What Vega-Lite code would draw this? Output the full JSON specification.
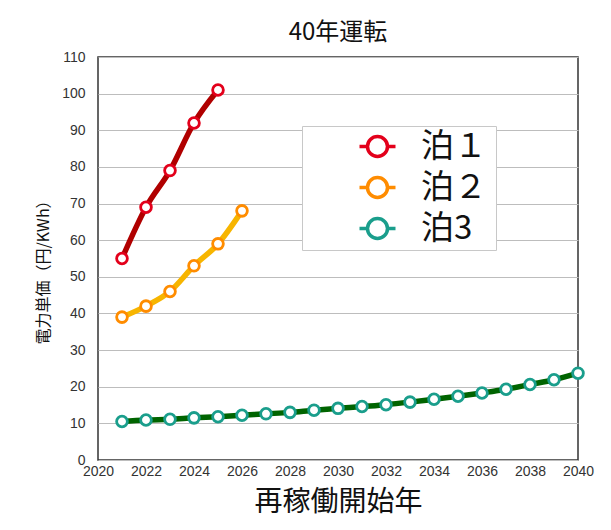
{
  "$schema": "https://vega.github.io/schema/vega-lite/v6.json",
  "width": 480,
  "height": 403,
  "autosize": {"type": "none"},
  "padding": {"left": 98, "top": 57, "right": 33, "bottom": 70},
  "background": "white",
  "title": {"text": "40年運転", "fontSize": 24, "font": "Noto Sans CJK JP", "fontWeight": "normal", "color": "#111", "offset": 5, "anchor": "middle"},
  "config": {
    "font": "Noto Sans CJK JP",
    "view": {"stroke": "#333", "strokeWidth": 1.5},
    "axis": {"labelFont": "Liberation Sans", "labelFontSize": 14, "labelColor": "#333", "ticks": false, "domain": false, "titleFont": "Noto Sans CJK JP", "titleFontWeight": "normal", "titleColor": "#111"}
  },
  "data": {"values": [
    {"plant": "泊１", "year": 2021, "price": 55},
    {"plant": "泊１", "year": 2022, "price": 69},
    {"plant": "泊１", "year": 2023, "price": 79},
    {"plant": "泊１", "year": 2024, "price": 92},
    {"plant": "泊１", "year": 2025, "price": 101},
    {"plant": "泊２", "year": 2021, "price": 39},
    {"plant": "泊２", "year": 2022, "price": 42},
    {"plant": "泊２", "year": 2023, "price": 46},
    {"plant": "泊２", "year": 2024, "price": 53},
    {"plant": "泊２", "year": 2025, "price": 59},
    {"plant": "泊２", "year": 2026, "price": 68},
    {"plant": "泊3", "year": 2021, "price": 10.5},
    {"plant": "泊3", "year": 2022, "price": 10.9},
    {"plant": "泊3", "year": 2023, "price": 11.1},
    {"plant": "泊3", "year": 2024, "price": 11.5},
    {"plant": "泊3", "year": 2025, "price": 11.8},
    {"plant": "泊3", "year": 2026, "price": 12.2},
    {"plant": "泊3", "year": 2027, "price": 12.6},
    {"plant": "泊3", "year": 2028, "price": 13.0},
    {"plant": "泊3", "year": 2029, "price": 13.6},
    {"plant": "泊3", "year": 2030, "price": 14.1},
    {"plant": "泊3", "year": 2031, "price": 14.6},
    {"plant": "泊3", "year": 2032, "price": 15.1},
    {"plant": "泊3", "year": 2033, "price": 15.8},
    {"plant": "泊3", "year": 2034, "price": 16.6},
    {"plant": "泊3", "year": 2035, "price": 17.4},
    {"plant": "泊3", "year": 2036, "price": 18.3},
    {"plant": "泊3", "year": 2037, "price": 19.3},
    {"plant": "泊3", "year": 2038, "price": 20.6},
    {"plant": "泊3", "year": 2039, "price": 21.9},
    {"plant": "泊3", "year": 2040, "price": 23.7}
  ]},
  "encoding": {
    "x": {"field": "year", "type": "quantitative", "scale": {"domain": [2020, 2040], "nice": false, "zero": false},
      "axis": {"values": [2020, 2022, 2024, 2026, 2028, 2030, 2032, 2034, 2036, 2038, 2040], "format": "d", "grid": false, "labelFlush": false, "labelPadding": 4, "title": "再稼働開始年", "titleFontSize": 28, "titlePadding": 10}},
    "y": {"field": "price", "type": "quantitative", "scale": {"domain": [0, 110], "nice": false},
      "axis": {"values": [0, 10, 20, 30, 40, 50, 60, 70, 80, 90, 100, 110], "grid": true, "gridColor": "#bdbdbd", "gridWidth": 1.2, "labelPadding": 13, "labelFlush": false, "title": "電力単価（円/KWh）", "titleFontSize": 16, "titlePadding": 10, "titleY": 211}}
  },
  "layer": [
    {
      "mark": {"type": "line", "interpolate": "monotone", "strokeWidth": 5.5},
      "encoding": {
        "stroke": {"field": "plant", "type": "nominal", "scale": {"domain": ["泊3", "泊１", "泊２"], "range": ["#006400", "#b00000", "#f7b500"]}, "legend": null}
      }
    },
    {
      "mark": {"type": "point", "shape": "circle", "size": 115, "filled": false, "fill": "white", "fillOpacity": 1, "strokeWidth": 2.8, "opacity": 1},
      "encoding": {
        "color": {"field": "plant", "type": "nominal", "scale": {"domain": ["泊１", "泊２", "泊3"], "range": ["#e3001b", "#ff8c00", "#1a9e8c"]},
          "legend": {"orient": "none", "legendX": 204, "legendY": 69, "title": "　　", "titleOrient": "right", "titleFontSize": 33, "titlePadding": 5, "titleFont": "Noto Sans CJK JP", "padding": 4, "strokeColor": "#c8c8c8", "fillColor": "white",
            "labelFontSize": 33, "labelFont": "Noto Sans CJK JP", "labelColor": "#111", "labelOffset": 27, "symbolOffset": 55, "rowPadding": 6,
            "symbolType": "M-1.8,0L-1,0M1,0L1.8,0M-1,0A1,1,0,1,1,1,0A1,1,0,1,1,-1,0Z",
            "symbolSize": 400, "symbolStrokeWidth": 3.5, "symbolFillColor": "white",
            "encode": {"symbols": {"update": {"fill": {"value": "white"}, "strokeWidth": {"signal": "datum.value == '泊２' ? 6 : (datum.value == '泊3' ? 2.5 : 3.5)"}}}}}}
      }
    }
  ]
}
